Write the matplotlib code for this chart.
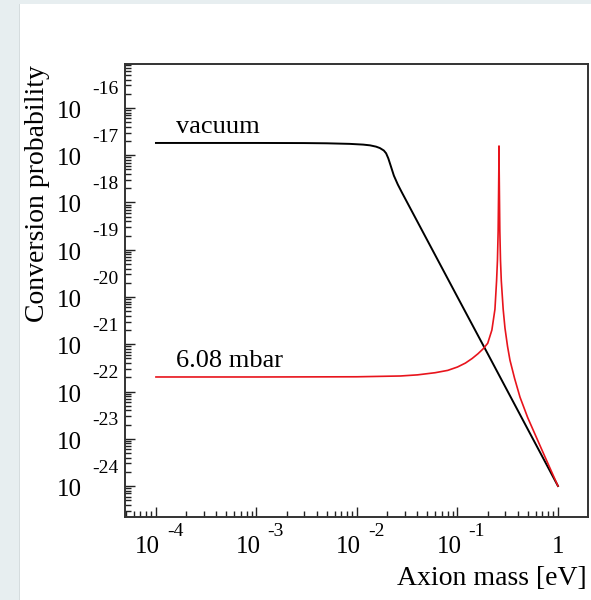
import matplotlib
matplotlib.use("Agg")
import matplotlib.pyplot as plt
from matplotlib.patches import Rectangle
from matplotlib.ticker import LogLocator, NullFormatter
import numpy as np

# ---- data ----
mass_vacuum = [1e-4, 3e-4, 1e-3, 3e-3, 5e-3, 8.5e-3, 1.15e-2, 1.35e-2, 1.55e-2, 1.69e-2,
               1.85e-2, 1.95e-2, 2.05e-2, 2.15e-2, 2.33e-2, 2.55e-2, 2.8e-2, 5e-2,
               1e-1, 2e-1, 5e-1, 1.0]
prob_vacuum = [1.82e-17, 1.82e-17, 1.82e-17, 1.81e-17, 1.79e-17, 1.74e-17, 1.68e-17,
               1.62e-17, 1.52e-17, 1.42e-17, 1.26e-17, 1.10e-17, 8.6e-18, 6.3e-18,
               3.7e-18, 2.4e-18, 1.63e-18, 1.6e-19, 1.0e-20, 6.3e-22, 1.6e-23, 1.0e-24]

mass_gas = [1e-4, 1e-3, 1e-2, 2.7e-2, 4e-2, 6e-2, 8e-2, 0.1, 0.12, 0.14, 0.16, 0.18,
            0.2, 0.22, 0.236, 0.245, 0.25, 0.254, 0.2565, 0.258, 0.259, 0.26, 0.2615,
            0.264, 0.268, 0.273, 0.285, 0.297, 0.315, 0.333, 0.37, 0.419, 0.5,
            0.662, 0.8, 1.0]
prob_gas = [2.03e-22, 2.03e-22, 2.05e-22, 2.13e-22, 2.25e-22, 2.5e-22, 2.8e-22,
            3.3e-22, 4.0e-22, 5.0e-22, 6.3e-22, 8.0e-22, 1.05e-21, 2.0e-21, 5.5e-21,
            2.2e-20, 6e-20, 2.5e-19, 1.5e-18, 5e-18, 1.57e-17, 5e-18, 1.5e-18,
            2.5e-19, 6e-20, 2.2e-20, 5.5e-21, 2.2e-21, 9e-22, 4.6e-22, 1.9e-22,
            7.6e-23, 2.8e-23, 7.2e-24, 2.9e-24, 1.0e-24]

label_vacuum = "vacuum"
label_gas = "6.08 mbar"
x_exponents = [-4, -3, -2, -1]
y_exponents = [-16, -17, -18, -19, -20, -21, -22, -23, -24]

FONT = "Liberation Serif"
W, H = 591, 600
fig = plt.figure(figsize=(W / 100, H / 100), dpi=100)
fig.patch.set_facecolor("white")

# page background strips
fig.patches.append(Rectangle((0, 0), 19 / W, 1, transform=fig.transFigure,
                             facecolor="#e7eef0", edgecolor="none", zorder=-10))
fig.patches.append(Rectangle((0, 1 - 4 / H), 1, 4 / H, transform=fig.transFigure,
                             facecolor="#e7eef0", edgecolor="none", zorder=-10))
fig.patches.append(Rectangle((19 / W, 0), 1.5 / W, 1 - 4 / H, transform=fig.transFigure,
                             facecolor="#d5dcde", edgecolor="none", zorder=-9))

left, right, bottom, top = 125 / W, 588 / W, 1 - 517 / H, 1 - 64 / H
ax = fig.add_axes([left, bottom, right - left, top - bottom])

ax.plot(mass_vacuum, prob_vacuum, color="black", lw=1.4, solid_joinstyle="round")
ax.plot(mass_gas, prob_gas, color="#e8141c", lw=1.2, solid_joinstyle="round")
ax.set_xscale("log")
ax.set_yscale("log")
ax.set_xlim(4.92e-5, 1.99)
ax.set_ylim(2.21e-25, 8.53e-16)

for s in ax.spines.values():
    s.set_linewidth(1.4)
    s.set_color("#333333")

ax.xaxis.set_major_locator(LogLocator(base=10, numticks=100))
ax.xaxis.set_minor_locator(LogLocator(base=10, subs=np.arange(2, 10), numticks=100))
ax.yaxis.set_major_locator(LogLocator(base=10, numticks=100))
ax.yaxis.set_minor_locator(LogLocator(base=10, subs=np.arange(2, 10), numticks=100))
ax.tick_params(which="both", direction="in", top=False, right=False,
               labelleft=False, labelbottom=False, color="#222222")
ax.tick_params(which="major", length=7.5, width=1.0)
ax.tick_params(which="minor", length=4.0, width=1.0)
ax.xaxis.set_minor_formatter(NullFormatter())
ax.yaxis.set_minor_formatter(NullFormatter())

PT = 0.72  # points per pixel at dpi 100
# x tick labels
for e in x_exponents:
    ax.annotate("10", xy=(10.0 ** e, 0), xycoords=("data", "axes fraction"),
                xytext=(-8.5 * PT, -30 * PT), textcoords="offset points",
                ha="center", va="center", fontsize=18, family=FONT)
    ax.annotate(str(e), xy=(10.0 ** e, 0), xycoords=("data", "axes fraction"),
                xytext=(11 * PT, -15 * PT), textcoords="offset points",
                ha="left", va="center", fontsize=14, family=FONT)
ax.annotate("1", xy=(1.0, 0), xycoords=("data", "axes fraction"),
            xytext=(0, -30 * PT), textcoords="offset points",
            ha="center", va="center", fontsize=18, family=FONT)

# y tick labels
for e in y_exponents:
    ax.annotate("10", xy=(0, 10.0 ** e), xycoords=("axes fraction", "data"),
                xytext=(-43 * PT, -4 * PT), textcoords="offset points",
                ha="right", va="center", fontsize=18, family=FONT)
    ax.annotate(str(e), xy=(0, 10.0 ** e), xycoords=("axes fraction", "data"),
                xytext=(-33 * PT, 18 * PT), textcoords="offset points",
                ha="left", va="center", fontsize=14, family=FONT)

# curve labels
ax.annotate(label_vacuum, xy=(1e-4, prob_vacuum[0]), xycoords="data",
            xytext=(20 * PT, 5 * PT), textcoords="offset points",
            ha="left", va="bottom", fontsize=19, family=FONT)
ax.annotate(label_gas, xy=(1e-4, prob_gas[0]), xycoords="data",
            xytext=(20 * PT, 5 * PT), textcoords="offset points",
            ha="left", va="bottom", fontsize=19, family=FONT)

# axis titles
fig.text(587 / W, 1 - 585 / H, "Axion mass [eV]", ha="right", va="baseline",
         fontsize=20, family=FONT)
fig.text(38 / W, 1 - 65 / H, "Conversion probability", ha="center", va="top",
         rotation=90, fontsize=20, family=FONT)

fig.savefig("out.png", dpi=100)
